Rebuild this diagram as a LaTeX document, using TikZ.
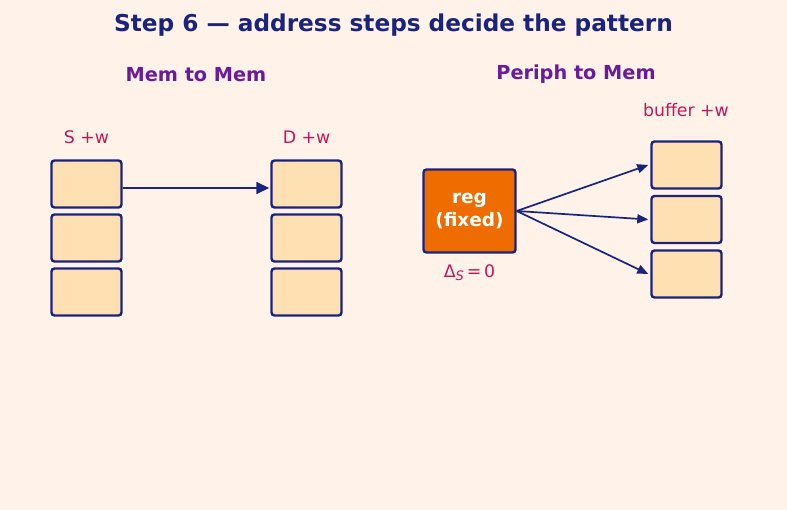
\documentclass[tikz,border=0pt]{standalone}
\usepackage{fontspec}
\setmainfont{DejaVu Sans}
\usetikzlibrary{arrows.meta}
\definecolor{bg}{HTML}{FFF2E8}
\definecolor{navy}{HTML}{1A237E}
\definecolor{cell}{HTML}{FFE0B2}
\definecolor{regc}{HTML}{EF6C00}
\definecolor{lab}{HTML}{C2185B}
\definecolor{purp}{HTML}{6A1B9A}
\tikzset{
  cellbox/.style={draw=navy, line width=2.4pt, fill=cell, rounded corners=3pt, minimum width=70pt, minimum height=47pt, inner sep=0pt},
  regbox/.style={draw=navy, line width=2.4pt, fill=regc, rounded corners=3pt, minimum width=92pt, minimum height=83pt, inner sep=0pt, text=white, font=\bfseries\fontsize{18.5}{22.5}\selectfont, align=center},
  lbl/.style={text=lab, font=\fontsize{17.3}{20}\selectfont, inner sep=0pt},
  sub/.style={text=purp, font=\bfseries\fontsize{19.3}{22}\selectfont, inner sep=0pt},
  conn/.style={draw=navy, line width=1.7pt, -{Triangle[length=13pt,width=12pt]}},
  conn2/.style={draw=navy, line width=1.7pt, -{Triangle[length=11pt,width=9pt]}},
}
\begin{document}
\begin{tikzpicture}[x=1pt,y=-1pt]
\fill[bg] (0,0) rectangle (787,510);
\useasboundingbox (0,0) rectangle (787,510);
\node[text=navy, font=\bfseries\fontsize{23.2}{26}\selectfont, inner sep=0pt] (title) at (393.5,25) {Step 6 — address steps decide the pattern};
\node[sub] (s1) at (196,74.5) {Mem to Mem};
\node[sub] (s2) at (576,74.5) {Periph to Mem};
% left columns
\node[cellbox] (a1) at (86.5,184) {};
\node[cellbox] (a2) at (86.5,238) {};
\node[cellbox] (a3) at (86.5,292) {};
\node[cellbox] (b1) at (306.5,184) {};
\node[cellbox] (b2) at (306.5,238) {};
\node[cellbox] (b3) at (306.5,292) {};
\node[lbl] (la) at (86.5,137) {S +w};
\node[lbl] (lb) at (306.5,137) {D +w};
\draw[conn] ([yshift=-4pt]a1.east) -- ([yshift=-4pt,xshift=-1pt]b1.west);
% right
\node[regbox] (reg) at (469.5,211) {reg\\(fixed)};
\node[lbl] (dl) at (469.5,273) {Δ\raisebox{-0.35ex}{\fontsize{13}{14}\selectfont\itshape S}\,=\,0};
\node[cellbox] (c1) at (686.5,165) {};
\node[cellbox] (c2) at (686.5,219.5) {};
\node[cellbox] (c3) at (686.5,274) {};
\node[lbl] (lc) at (686,110) {buffer +w};
\draw[conn2] (reg.east) -- ([xshift=-2pt]c1.west);
\draw[conn2] (reg.east) -- ([xshift=-2pt]c2.west);
\draw[conn2] (reg.east) -- ([xshift=-2pt]c3.west);
\end{tikzpicture}
\end{document}
